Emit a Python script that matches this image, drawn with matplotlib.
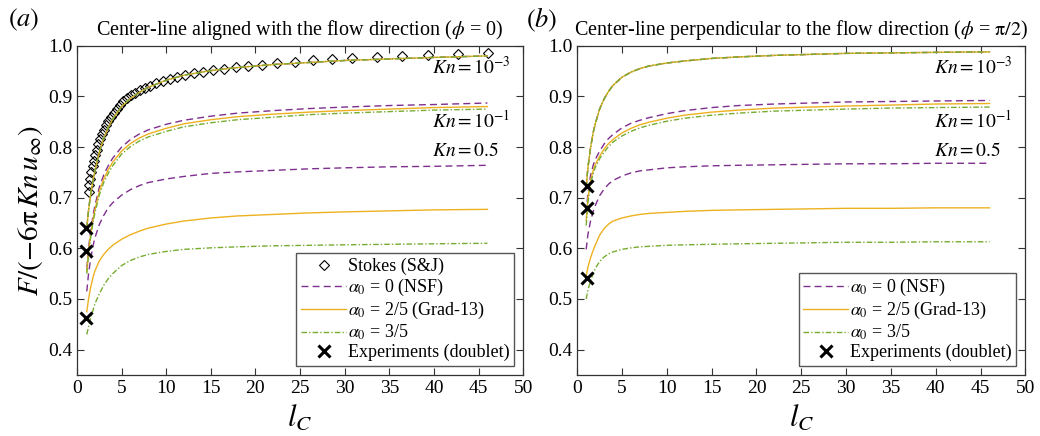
import numpy as np
import matplotlib
matplotlib.use("Agg")
import matplotlib.pyplot as plt

plt.rcParams['font.family'] = ['Liberation Serif', 'DejaVu Serif']
plt.rcParams['mathtext.fontset'] = 'stix'

# ---- data ----
# panel (a): phi = 0
la = [1.1, 1.3, 1.5, 1.8, 2, 2.5, 3, 3.5, 4, 5, 6, 7, 8, 10, 12, 15, 18, 22, 26, 30, 35, 40, 46]
a_kn3 = [0.64, 0.675, 0.703, 0.735, 0.752, 0.79, 0.818, 0.838, 0.855, 0.88, 0.896, 0.908, 0.918,
         0.932, 0.942, 0.951, 0.957, 0.963, 0.967, 0.971, 0.974, 0.977, 0.98]
a_kn1_nsf = [0.56, 0.6, 0.63, 0.665, 0.683, 0.72, 0.745, 0.763, 0.778, 0.8, 0.815, 0.826, 0.834,
             0.845, 0.853, 0.861, 0.867, 0.872, 0.876, 0.879, 0.882, 0.884, 0.887]
a_kn1_g13 = [0.555, 0.594, 0.623, 0.657, 0.675, 0.712, 0.737, 0.755, 0.77, 0.792, 0.807, 0.818, 0.826,
             0.837, 0.846, 0.854, 0.86, 0.865, 0.869, 0.872, 0.875, 0.878, 0.88]
a_kn1_35 = [0.55, 0.588, 0.617, 0.651, 0.669, 0.705, 0.73, 0.748, 0.763, 0.786, 0.801, 0.812, 0.82,
            0.831, 0.84, 0.848, 0.854, 0.859, 0.864, 0.867, 0.87, 0.873, 0.875]
a_kn05_nsf = [0.515, 0.55, 0.575, 0.605, 0.62, 0.647, 0.665, 0.68, 0.69, 0.705, 0.716, 0.724, 0.73,
              0.737, 0.742, 0.748, 0.751, 0.754, 0.757, 0.759, 0.761, 0.762, 0.764]
a_kn05_g13 = [0.475, 0.5, 0.52, 0.543, 0.555, 0.575, 0.588, 0.598, 0.606, 0.618, 0.627, 0.634, 0.64,
              0.648, 0.654, 0.66, 0.664, 0.667, 0.67, 0.672, 0.674, 0.676, 0.677]
a_kn05_35 = [0.43, 0.445, 0.46, 0.478, 0.49, 0.51, 0.527, 0.54, 0.55, 0.566, 0.576, 0.583, 0.588,
             0.594, 0.598, 0.601, 0.603, 0.605, 0.606, 0.607, 0.608, 0.609, 0.61]

# Stokes (Stimson & Jeffery) points
stokes_l = [1.3, 1.4, 1.5, 1.62, 1.75, 1.9, 2.05, 2.2, 2.4, 2.6, 2.8, 3.0, 3.25, 3.5, 3.8, 4.1,
            4.45, 4.8, 5.2, 5.6, 6.05, 6.5, 7.05, 7.6, 8.2, 8.9, 9.6, 10.4, 11.2, 12.1, 13.1,
            14.1, 15.2, 16.5, 17.8, 19.2, 20.7, 22.4, 24.4, 26.5, 28.6, 30.8, 33.6, 36.4, 39.3,
            42.7, 46.1]
stokes_f = [0.711, 0.725, 0.737, 0.75, 0.762, 0.773, 0.785, 0.795, 0.806, 0.816, 0.825, 0.834,
            0.843, 0.852, 0.86, 0.868, 0.876, 0.883, 0.89, 0.896, 0.902, 0.907, 0.912, 0.917,
            0.921, 0.926, 0.93, 0.934, 0.938, 0.942, 0.946, 0.949, 0.952, 0.955, 0.958, 0.961,
            0.963, 0.966, 0.968, 0.971, 0.973, 0.975, 0.977, 0.979, 0.981, 0.983, 0.985]

exp_a_l = [1.05, 1.05, 1.05]
exp_a_f = [0.64, 0.595, 0.462]

# panel (b): phi = pi/2
lb = [1.0, 1.2, 1.5, 1.8, 2, 2.5, 3, 3.5, 4, 5, 6, 7, 8, 10, 12, 15, 18, 22, 26, 30, 35, 40, 46]
b_kn3 = [0.72, 0.76, 0.8, 0.83, 0.845, 0.875, 0.895, 0.91, 0.922, 0.938, 0.948, 0.955, 0.96,
         0.966, 0.97, 0.975, 0.978, 0.981, 0.983, 0.985, 0.986, 0.987, 0.988]
b_kn1_nsf = [0.67, 0.71, 0.745, 0.765, 0.775, 0.792, 0.806, 0.817, 0.825, 0.838, 0.847, 0.853, 0.858,
             0.866, 0.872, 0.878, 0.882, 0.885, 0.887, 0.889, 0.89, 0.891, 0.892]
b_kn1_g13 = [0.655, 0.7, 0.735, 0.755, 0.765, 0.782, 0.796, 0.807, 0.815, 0.828, 0.837, 0.844, 0.849,
             0.857, 0.863, 0.869, 0.873, 0.877, 0.879, 0.881, 0.883, 0.885, 0.886]
b_kn1_35 = [0.645, 0.69, 0.728, 0.749, 0.759, 0.777, 0.79, 0.801, 0.81, 0.822, 0.831, 0.838, 0.843,
            0.851, 0.857, 0.863, 0.867, 0.871, 0.873, 0.875, 0.877, 0.878, 0.879]
b_kn05_nsf = [0.598, 0.628, 0.655, 0.674, 0.684, 0.704, 0.717, 0.727, 0.734, 0.743, 0.749, 0.753, 0.755,
              0.759, 0.761, 0.763, 0.764, 0.765, 0.766, 0.767, 0.767, 0.768, 0.768]
b_kn05_g13 = [0.545, 0.563, 0.582, 0.597, 0.606, 0.626, 0.639, 0.648, 0.654, 0.66, 0.664, 0.667, 0.669,
              0.671, 0.673, 0.675, 0.676, 0.677, 0.678, 0.679, 0.679, 0.68, 0.68]
b_kn05_35 = [0.5, 0.518, 0.536, 0.551, 0.56, 0.574, 0.583, 0.589, 0.593, 0.598, 0.601, 0.603, 0.604,
             0.606, 0.607, 0.608, 0.609, 0.61, 0.611, 0.612, 0.612, 0.613, 0.613]

exp_b_l = [1.05, 1.05, 1.05]
exp_b_f = [0.724, 0.679, 0.542]

purple = '#7E2F8E'
orange = '#EDB120'
green = '#77AC30'

fig = plt.figure(figsize=(10.4, 4.36), dpi=100)
axa = fig.add_axes([0.074, 0.14, 0.429, 0.755])
axb = fig.add_axes([0.555, 0.14, 0.431, 0.755])


def curves(ax, x, kn3, nsf1, g131, g351, nsf05, g1305, g3505):
    # Kn = 1e-3: the three models collapse onto one curve
    ax.plot(x, kn3, color=purple, lw=1.0, ls=(0, (5, 3)))
    ax.plot(x, kn3, color=orange, lw=1.0)
    ax.plot(x, kn3, color=green, lw=1.0, ls=(0, (4, 1.5, 1, 1.5)))
    ax.plot(x, nsf1, color=purple, lw=1.0, ls=(0, (5, 3)))
    ax.plot(x, g131, color=orange, lw=1.0)
    ax.plot(x, g351, color=green, lw=1.0, ls=(0, (4, 1.5, 1, 1.5)))
    ax.plot(x, nsf05, color=purple, lw=1.0, ls=(0, (5, 3)), label=r'$\alpha_0$ = 0 (NSF)')
    ax.plot(x, g1305, color=orange, lw=1.0, label=r'$\alpha_0$ = 2/5 (Grad-13)')
    ax.plot(x, g3505, color=green, lw=1.0, ls=(0, (4, 1.5, 1, 1.5)), label=r'$\alpha_0$ = 3/5')


axa.plot(stokes_l, stokes_f, ls='none', marker='D', ms=5.2, mfc='none', mec='black', mew=0.8,
         label='Stokes (S&J)')
curves(axa, la, a_kn3, a_kn1_nsf, a_kn1_g13, a_kn1_35, a_kn05_nsf, a_kn05_g13, a_kn05_35)
axa.plot(exp_a_l, exp_a_f, ls='none', marker='x', ms=8, mew=2.2, color='black',
         label='Experiments (doublet)')

curves(axb, lb, b_kn3, b_kn1_nsf, b_kn1_g13, b_kn1_35, b_kn05_nsf, b_kn05_g13, b_kn05_35)
axb.plot(exp_b_l, exp_b_f, ls='none', marker='x', ms=8, mew=2.2, color='black',
         label='Experiments (doublet)')

for ax in (axa, axb):
    ax.set_xlim(0, 50)
    ax.set_ylim(0.35, 1.0)
    ax.set_xticks(np.arange(0, 51, 5))
    ax.set_yticks(np.arange(0.4, 1.01, 0.1))
    ax.set_yticklabels(['%.1f' % v for v in np.arange(0.4, 1.01, 0.1)])
    ax.tick_params(direction='in', top=True, right=True, length=5, width=0.8,
                   labelsize=14, colors='#333333', labelcolor='black')
    for s in ax.spines.values():
        s.set_color('#333333')
        s.set_linewidth(0.9)
    ax.set_xlabel(r'$l_C$', fontsize=22, labelpad=5)
    ax.text(39.8, 0.958, r'$Kn = 10^{-3}$', fontsize=14, va='center')
    ax.text(39.8, 0.853, r'$Kn = 10^{-1}$', fontsize=14, va='center')
    ax.text(39.8, 0.793, r'$Kn = 0.5$', fontsize=14, va='center')
    ax.legend(loc='lower right', fontsize=13, frameon=True, fancybox=False, framealpha=1,
              edgecolor='#555555', borderpad=0.25, labelspacing=0.1, handlelength=2.5,
              handletextpad=0.1, numpoints=1, borderaxespad=0.5)

axa.set_ylabel(r'$F/(-6\mathrm{\pi}\,Kn\,u_\infty)$', fontsize=21, labelpad=2)
axa.set_title(r'Center-line aligned with the flow direction ($\phi$ = 0)', fontsize=14.5, pad=8)
axb.set_title(r'Center-line perpendicular to the flow direction ($\phi$ = $\mathrm{\pi}/2$)',
              fontsize=14.5, pad=8)
fig.text(0.008, 0.955, r'$(a)$', fontsize=19, va='center')
fig.text(0.506, 0.955, r'$(b)$', fontsize=19, va='center')

fig.savefig('out.png', dpi=100)
